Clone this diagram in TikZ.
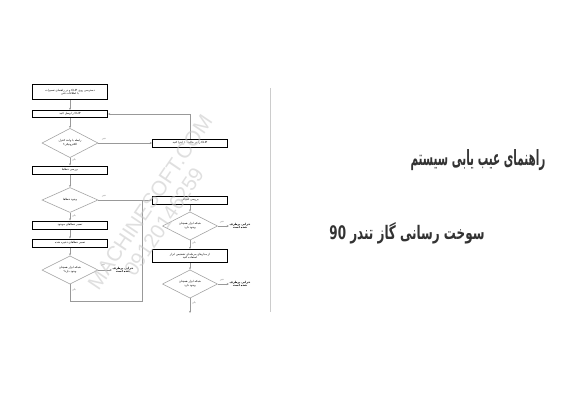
\documentclass[tikz,border=0pt]{standalone}
\usepackage{fontspec}
\usetikzlibrary{shapes.geometric,arrows.meta}
\TeXXeTstate=1
\newfontfamily\arabicfont[Script=Arabic]{DejaVu Sans}
\setsansfont{Liberation Sans}
\newcommand{\ar}[1]{\arabicfont\beginR #1\endR}
\newcommand{\lt}[1]{\beginL #1\endL{}}
\tikzset{
  flowbox/.style={draw=black,line width=1pt,fill=white,minimum width=75pt,inner sep=0pt,align=center,font=\arabicfont\fontsize{2.8}{3.6}\selectfont},
  decide/.style={diamond,draw=gray!75,line width=0.55pt,fill=white,inner sep=0pt,align=center,font=\arabicfont\fontsize{2.8}{3.6}\selectfont},
  conn/.style={draw=gray!80,line width=0.6pt},
  arr/.style={conn,-{Stealth[length=2.2pt,width=2pt]}},
  lab/.style={font=\arabicfont\fontsize{2.6}{3}\selectfont,text=gray!90!black,inner sep=0.5pt},
  result/.style={font=\arabicfont\bfseries\fontsize{2.9}{3.8}\selectfont,align=center,inner sep=0.5pt},
  title/.style={text=black!80,inner sep=0pt},
  wmark/.style={text=gray!45,text opacity=0.55,inner sep=0pt,font=\sffamily}
}
\begin{document}
\begin{tikzpicture}[x=1pt,y=-1pt]
\useasboundingbox (0,0) rectangle (580,400);
\fill[white] (0,0) rectangle (580,400);

% separator
\draw[gray!40,line width=0.8pt] (270.5,88) -- (270.5,312);

% left column
\node[flowbox,minimum height=15pt] (b1) at (70,92) {\ar{دسترسی روی \lt{CLIP} و در راهنمای تعمیرات}\\ \ar{با اطلاعات فنی}};
\node[flowbox,minimum height=7pt] (b2) at (70,114) {\ar{\lt{CLIP} را وصل کنید}};
\node[decide,minimum width=56pt,minimum height=26pt] (d1) at (70,143) {\ar{رابطه با واحد کنترل}\\ \ar{الکترونیکی؟}};
\node[flowbox,minimum height=8pt] (b4) at (70,170) {\ar{بررسی خطاها}};
\node[decide,minimum width=56pt,minimum height=25pt] (d2) at (70,200) {\ar{وجود خطاها}};
\node[flowbox,minimum height=8pt] (b5) at (70,225) {\ar{تعمیر خطاهای موجود}};
\node[flowbox,minimum height=8pt] (b6) at (70,243) {\ar{تعمیر خطاهای ذخیره شده}};
\node[decide,minimum width=56pt,minimum height=28pt] (d3) at (70,270) {\ar{شبکه ابزار همچنان}\\ \ar{وجود دارد؟}};
\node[result] (r1) at (123,270) {\ar{خرابی برطرف}\\ \ar{شده است}};
\coordinate (c1) at (70,301);
\coordinate (c2) at (142,301);
\coordinate (c3) at (142,200);

% right column
\node[flowbox,minimum height=8pt] (b3) at (190,143) {\ar{\lt{CLIP} را در حالت ۱۰ اجرا کنید}};
\coordinate (c4) at (190,114);
\node[flowbox,minimum height=8pt] (rb1) at (190,200) {\ar{بررسی اتصالی}};
\node[decide,minimum width=55pt,minimum height=27pt] (rd1) at (190,226) {\ar{شبکه ابزار همچنان}\\ \ar{وجود دارد}};
\node[result] (r2) at (240,226) {\ar{خرابی برطرف}\\ \ar{شده است}};
\node[flowbox,minimum height=13pt] (rb2) at (190,256) {\ar{از مدارهای مرحله‌ای تشخیص ابزار}\\ \ar{استفاده کنید}};
\node[decide,minimum width=55pt,minimum height=27pt] (rd2) at (190,284) {\ar{شبکه ابزار همچنان}\\ \ar{وجود دارد}};
\node[result] (r3) at (240,284) {\ar{خرابی برطرف}\\ \ar{شده است}};
\coordinate (c5) at (190,313);

% connectors
\draw[arr] (b1) -- (b2);
\draw[arr] (b2) -- (d1);
\draw[arr] (d1) -- (b4);
\draw[arr] (d1.east) -- (b3.west);
\draw[arr] (b3.north) -- (c4) -- (b2.east);
\draw[arr] (b4) -- (d2);
\draw[arr] (d2) -- (b5);
\draw[arr] (b5) -- (b6);
\draw[arr] (b6) -- (d3);
\draw[arr] (d3.east) -- (r1.west);
\draw[conn] (d3.south) -- (c1) -- (c2) -- (c3);
\draw[arr] (d2.east) -- (rb1.west);
\draw[arr] (rb1) -- (rd1);
\draw[arr] (rd1.east) -- (r2.west);
\draw[arr] (rd1) -- (rb2);
\draw[arr] (rb2) -- (rd2);
\draw[arr] (rd2.east) -- (r3.west);
\draw[arr] (rd2.south) -- (c5);

% yes/no labels
\node[lab] (n1) at (104,139) {\ar{خیر}};
\node[lab] (y1) at (74,160) {\ar{بلی}};
\node[lab] (n2) at (104,196) {\ar{خیر}};
\node[lab] (y2) at (74,216) {\ar{بلی}};
\node[lab] (n3) at (103,265) {\ar{خیر}};
\node[lab] (y3) at (74,290) {\ar{بلی}};
\node[lab] (n4) at (222,222) {\ar{خیر}};
\node[lab] (y4) at (194,243) {\ar{بلی}};
\node[lab] (n5) at (222,280) {\ar{خیر}};
\node[lab] (y5) at (194,303) {\ar{بلی}};

% titles
\node[title] (t1) at (478,160) {\resizebox{135pt}{16pt}{\arabicfont\bfseries\beginR راهنمای عیب یابی سیستم\endR}};
\node[title] (t2) at (407,233) {\resizebox{155pt}{17pt}{\arabicfont\bfseries\beginR سوخت رسانی گاز تندر \beginL 90\endL{}\endR}};

% watermark (drawn on top, faint)
\node[rotate=56,wmark] (wm1) at (150,202) {\resizebox{205pt}{!}{MACHINESOFT.COM}};
\node[rotate=56,wmark] (wm2) at (164,222) {\resizebox{125pt}{!}{09120146259}};
\end{tikzpicture}
\end{document}
